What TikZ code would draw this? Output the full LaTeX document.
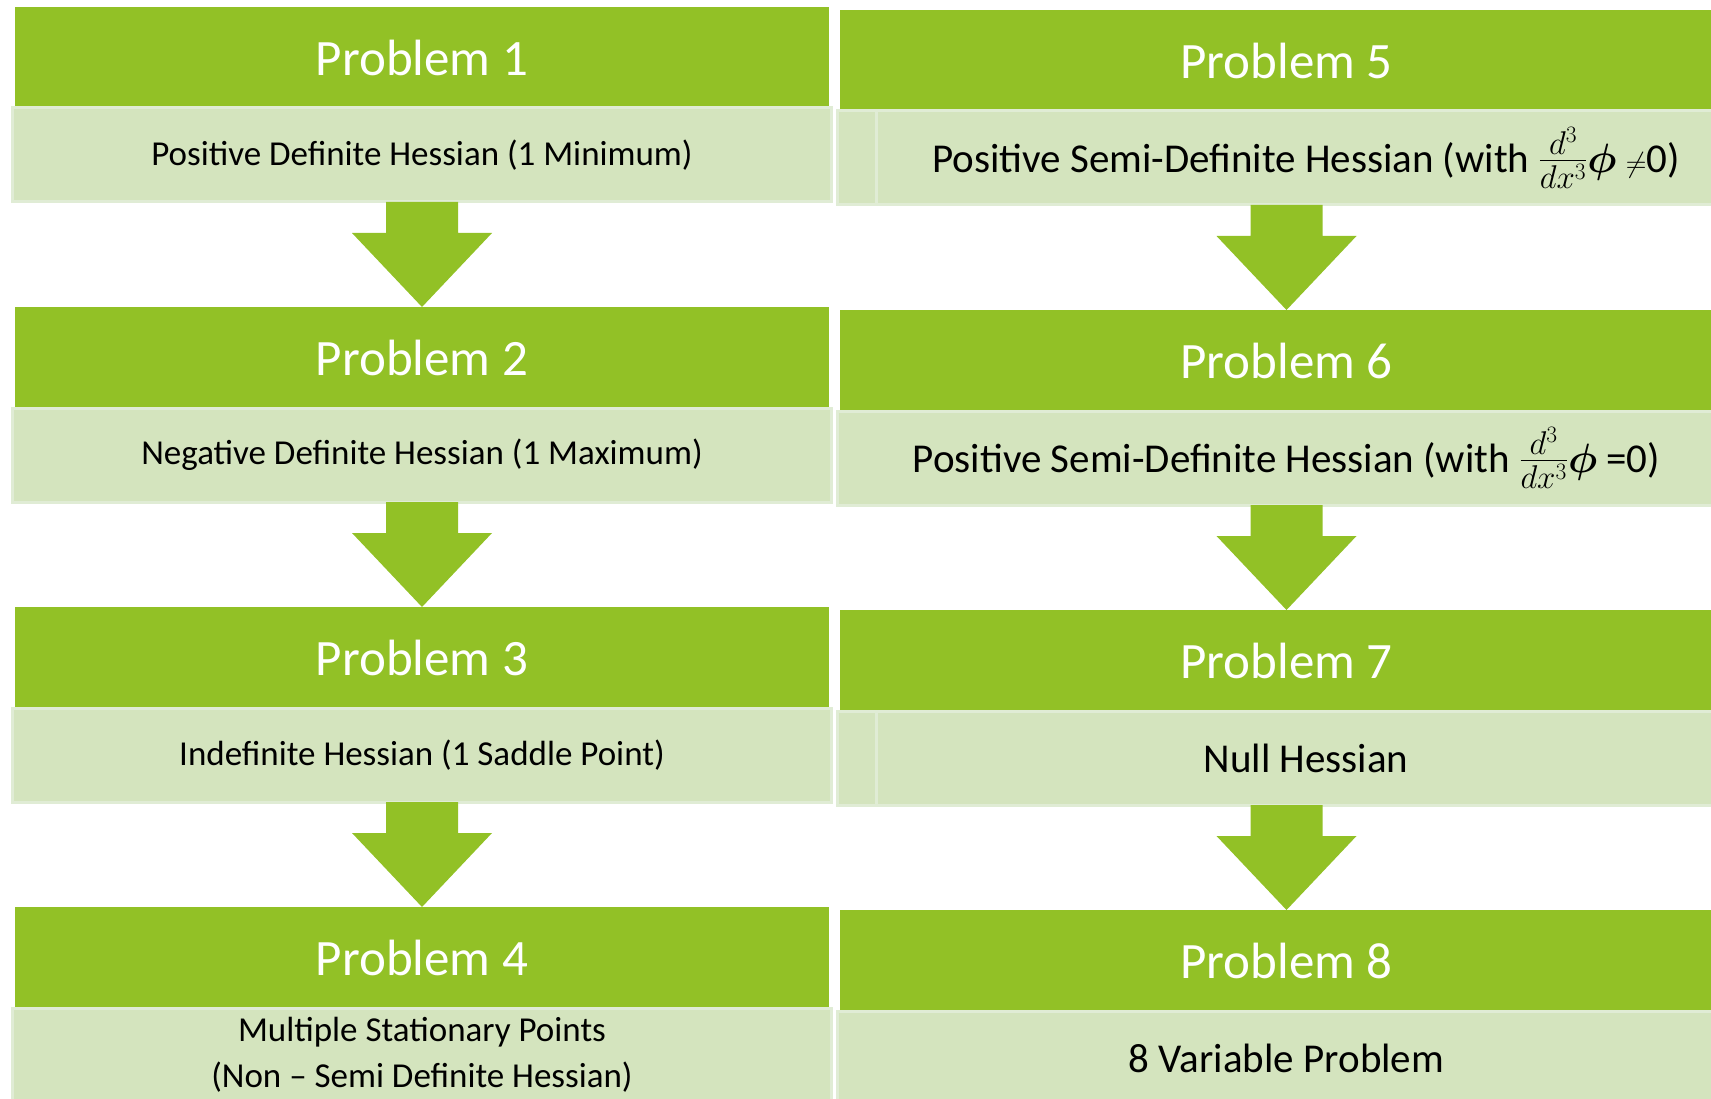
\RequirePackage{fix-cm}
\documentclass[tikz,border=0pt]{standalone}
\usepackage{amsmath}
\usepackage{fontspec}
\setmainfont{Carlito}
\usetikzlibrary{positioning,calc}

\definecolor{leaf}{RGB}{146,193,38}
\definecolor{sage}{RGB}{212,228,190}
\definecolor{sageedge}{RGB}{224,236,213}

% third derivative fraction, set a little larger than the line
\newcommand{\dthree}{{\fontsize{47}{50}\selectfont$\frac{d^3}{dx^3}$}$\boldsymbol{\phi}$}

\begin{document}
\begin{tikzpicture}[
  x=1pt, y=-1pt,
  node distance=105pt,
  head/.style={fill=leaf, text=white, minimum height=101pt, inner sep=0pt, outer sep=0pt, font=\fontsize{51}{60}\selectfont},
  card/.style={fill=sage, draw=sageedge, line width=3pt, minimum height=94pt, inner sep=0pt, outer sep=0pt, align=center},
  lhead/.style={head, minimum width=814pt},
  rhead/.style={head, minimum width=893pt},
  lcard/.style={card, minimum width=819pt, font=\fontsize{35}{46}\selectfont},
  rcard/.style={card, minimum width=898pt, font=\fontsize{41}{48}\selectfont},
  fcard/.style={rcard, minimum width=859pt, anchor=east},
  arr/.style={fill=leaf, to path={let \p1=(\tikztostart.south), \p2=(\tikztotarget.north) in
    (\x1-36pt,\y1) -- (\x1+36pt,\y1) -- (\x1+36pt,\y1-31pt) -- (\x1+70pt,\y1-31pt)
    -- (\x2,\y2) -- (\x1-70pt,\y1-31pt) -- (\x1-36pt,\y1-31pt) -- cycle}}]
\clip (0,0) rectangle (1711,1099);

% left column
\node[lhead] (h1) at (422,57.5) {Problem 1};
\node[lcard, below=0pt of h1] (b1) {Positive Definite Hessian (1 Minimum)};
\node[lhead, below=of b1] (h2) {Problem 2};
\node[lcard, below=0pt of h2] (b2) {Negative Definite Hessian (1 Maximum)};
\node[lhead, below=of b2] (h3) {Problem 3};
\node[lcard, below=0pt of h3] (b3) {Indefinite Hessian (1 Saddle Point)};
\node[lhead, below=of b3] (h4) {Problem 4};
\node[lcard, below=0pt of h4] (b4) {Multiple Stationary Points\\(Non – Semi Definite Hessian)};

% right column
\node[rhead] (h5) at (1286.5,60.5) {Problem 5};
\node[rcard, below=0pt of h5] (b5) {};
\node[fcard] (b5t) at (b5.east) {Positive Semi-Definite Hessian (with \dthree{} $\scriptstyle\neq$0)};
\node[rhead, below=of b5] (h6) {Problem 6};
\node[rcard, below=0pt of h6] (b6) {Positive Semi-Definite Hessian (with \dthree{} =0)};
\node[rhead, below=of b6] (h7) {Problem 7};
\node[rcard, below=0pt of h7] (b7) {};
\node[fcard] (b7t) at (b7.east) {Null Hessian};
\node[rhead, below=of b7] (h8) {Problem 8};
\node[rcard, below=0pt of h8] (b8) {8 Variable Problem};

\fill[arr] (b1) to (h2);
\fill[arr] (b2) to (h3);
\fill[arr] (b3) to (h4);
\fill[arr] (b5) to (h6);
\fill[arr] (b6) to (h7);
\fill[arr] (b7) to (h8);
\end{tikzpicture}
\end{document}
